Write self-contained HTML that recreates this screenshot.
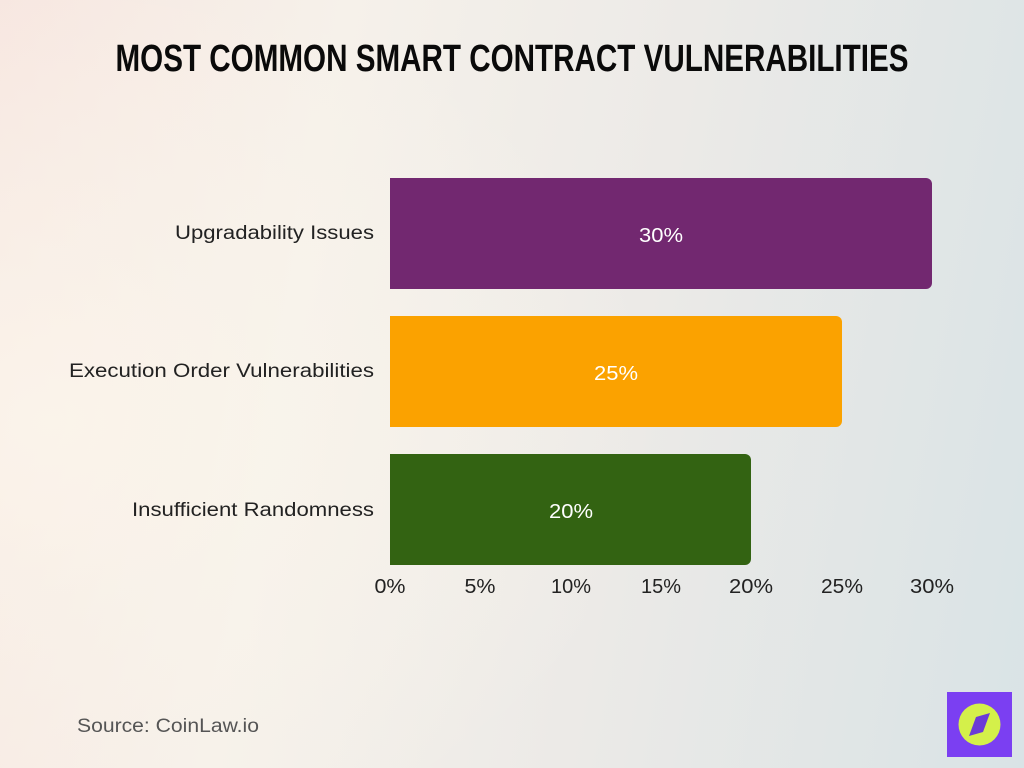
<!DOCTYPE html>
<html><head><style>
html,body{margin:0;padding:0}
body{width:1024px;height:768px;overflow:hidden;background:linear-gradient(100deg,#f7e6e0 0%,#f6f1ea 30%,#eceae7 60%,#d9e3e6 100%);font-family:"Liberation Sans",sans-serif;}
</style></head><body>
<svg width="1024" height="768" xmlns="http://www.w3.org/2000/svg" style="position:absolute;left:0;top:0">
<defs><radialGradient id="g" cx="0.05" cy="0.55" r="0.6"><stop offset="0" stop-color="#fbf6ec" stop-opacity="0.8"/><stop offset="1" stop-color="#fbf6ec" stop-opacity="0"/></radialGradient></defs>
<rect width="1024" height="768" fill="url(#g)"/>
<text x="512" y="71" text-anchor="middle" textLength="793" lengthAdjust="spacingAndGlyphs" font-family="Liberation Sans Narrow, Liberation Sans, sans-serif" font-weight="bold" font-size="38" fill="#0a0a0a">MOST COMMON SMART CONTRACT VULNERABILITIES</text>
<path d="M390 178H926a6 6 0 0 1 6 6V283a6 6 0 0 1-6 6H390Z" fill="#722870"/>
<path d="M390 316H836a6 6 0 0 1 6 6V421a6 6 0 0 1-6 6H390Z" fill="#FBA200"/>
<path d="M390 454H745a6 6 0 0 1 6 6V559a6 6 0 0 1-6 6H390Z" fill="#336312"/>
<g font-size="20" fill="#fff" text-anchor="middle">
<text x="661" y="242" textLength="44" lengthAdjust="spacingAndGlyphs">30%</text><text x="616" y="380" textLength="44" lengthAdjust="spacingAndGlyphs">25%</text><text x="571" y="518" textLength="44" lengthAdjust="spacingAndGlyphs">20%</text></g>
<g font-size="19" fill="#222" text-anchor="end">
<text x="374" y="239" textLength="199" lengthAdjust="spacingAndGlyphs">Upgradability Issues</text>
<text x="374" y="377" textLength="305" lengthAdjust="spacingAndGlyphs">Execution Order Vulnerabilities</text>
<text x="374" y="516" textLength="242" lengthAdjust="spacingAndGlyphs">Insufficient Randomness</text></g>
<g font-size="20" fill="#222" text-anchor="middle">
<text x="390" y="593" textLength="31" lengthAdjust="spacingAndGlyphs">0%</text><text x="480" y="593" textLength="31" lengthAdjust="spacingAndGlyphs">5%</text><text x="571" y="593" textLength="40" lengthAdjust="spacingAndGlyphs">10%</text><text x="661" y="593" textLength="40" lengthAdjust="spacingAndGlyphs">15%</text><text x="751" y="593" textLength="44" lengthAdjust="spacingAndGlyphs">20%</text><text x="842" y="593" textLength="42" lengthAdjust="spacingAndGlyphs">25%</text><text x="932" y="593" textLength="44" lengthAdjust="spacingAndGlyphs">30%</text></g>
<text x="77" y="732" font-size="19" fill="#555" textLength="182" lengthAdjust="spacingAndGlyphs">Source: CoinLaw.io</text>
<rect x="947" y="692" width="65" height="65" fill="#7B3FF2"/>
<circle cx="979.5" cy="724.5" r="21" fill="#D4F04A"/>
<path d="M990 713L983 732L969 736L976 717Z" fill="#6b3bd6"/>
</svg>
</body></html>
